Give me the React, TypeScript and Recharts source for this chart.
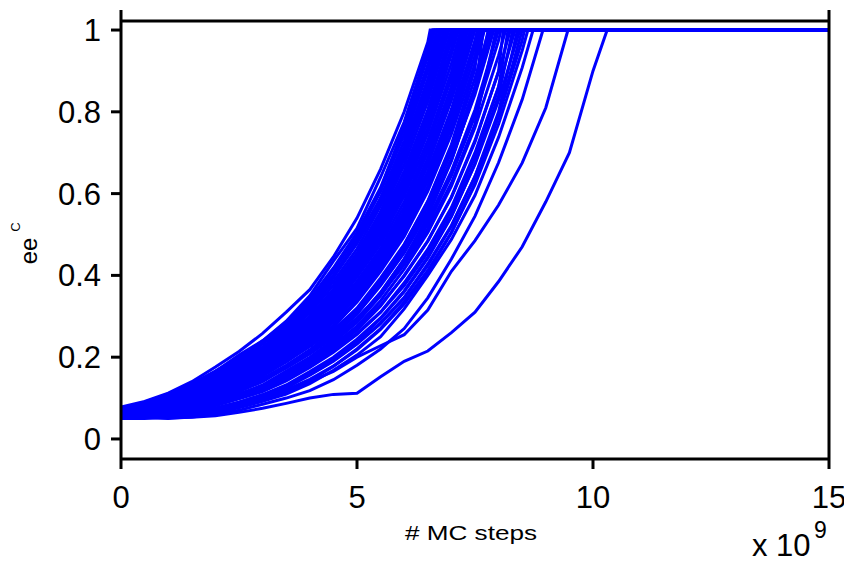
import React from 'react';
import { LineChart, Line, XAxis, YAxis, ReferenceLine } from 'recharts';

const FONT = '"Liberation Sans", Arial, sans-serif';

// MC-step grid (units of 1e9) at which each run's ee value was read
const gridSteps = [0, 0.5, 1, 1.5, 2, 2.5, 3, 3.5, 4, 4.5, 5, 5.5, 6, 6.5, 7, 7.5, 8, 8.5, 9, 9.5, 10];

const run01 = [0.078, 0.092, 0.112, 0.14, 0.176, 0.214, 0.258, 0.31, 0.365, 0.445, 0.54, 0.66, 0.8, 0.97];
const run02 = [0.072, 0.09, 0.108, 0.134, 0.165, 0.205, 0.24, 0.288, 0.35, 0.435, 0.515, 0.64, 0.775, 0.955];
const run03 = [0.07, 0.084, 0.1, 0.13, 0.158, 0.196, 0.236, 0.28, 0.342, 0.418, 0.505, 0.615, 0.76, 0.935];
const run04 = [0.075, 0.088, 0.105, 0.128, 0.16, 0.19, 0.232, 0.276, 0.338, 0.41, 0.498, 0.605, 0.745, 0.915];
const run05 = [0.066, 0.08, 0.096, 0.122, 0.152, 0.188, 0.225, 0.27, 0.33, 0.4, 0.485, 0.59, 0.73, 0.9];
const run06 = [0.07, 0.086, 0.102, 0.125, 0.15, 0.185, 0.222, 0.265, 0.322, 0.395, 0.478, 0.58, 0.715, 0.88];
const run07 = [0.063, 0.078, 0.098, 0.12, 0.146, 0.18, 0.218, 0.262, 0.315, 0.385, 0.465, 0.57, 0.7, 0.86];
const run08 = [0.072, 0.082, 0.1, 0.118, 0.145, 0.178, 0.214, 0.256, 0.308, 0.376, 0.455, 0.556, 0.688, 0.84];
const run09 = [0.065, 0.076, 0.094, 0.115, 0.14, 0.172, 0.21, 0.25, 0.3, 0.366, 0.448, 0.545, 0.67, 0.825];
const run10 = [0.068, 0.08, 0.094, 0.112, 0.138, 0.168, 0.205, 0.245, 0.296, 0.36, 0.44, 0.535, 0.655, 0.805];
const run11 = [0.061, 0.074, 0.09, 0.11, 0.132, 0.165, 0.2, 0.24, 0.29, 0.352, 0.43, 0.525, 0.642, 0.79, 0.975];
const run12 = [0.066, 0.072, 0.088, 0.108, 0.13, 0.16, 0.196, 0.236, 0.284, 0.346, 0.424, 0.514, 0.63, 0.776, 0.955];
const run13 = [0.058, 0.068, 0.084, 0.104, 0.126, 0.158, 0.192, 0.232, 0.28, 0.34, 0.416, 0.505, 0.618, 0.76, 0.94];
const run14 = [0.07, 0.076, 0.09, 0.106, 0.128, 0.156, 0.19, 0.23, 0.275, 0.336, 0.41, 0.495, 0.606, 0.748, 0.918];
const run15 = [0.062, 0.066, 0.08, 0.1, 0.122, 0.15, 0.186, 0.224, 0.27, 0.328, 0.402, 0.486, 0.594, 0.73, 0.898];
const run16 = [0.066, 0.072, 0.086, 0.102, 0.124, 0.152, 0.183, 0.22, 0.265, 0.32, 0.396, 0.476, 0.58, 0.716, 0.882];
const run17 = [0.056, 0.064, 0.078, 0.096, 0.118, 0.144, 0.178, 0.215, 0.26, 0.314, 0.386, 0.466, 0.568, 0.702, 0.862];
const run18 = [0.064, 0.07, 0.082, 0.098, 0.12, 0.146, 0.176, 0.212, 0.255, 0.308, 0.375, 0.456, 0.555, 0.686, 0.842];
const run19 = [0.06, 0.066, 0.078, 0.094, 0.114, 0.138, 0.172, 0.208, 0.25, 0.302, 0.368, 0.448, 0.546, 0.672, 0.828];
const run20 = [0.064, 0.068, 0.078, 0.092, 0.112, 0.136, 0.168, 0.204, 0.245, 0.295, 0.36, 0.44, 0.536, 0.655, 0.806];
const run21 = [0.058, 0.064, 0.075, 0.09, 0.11, 0.132, 0.164, 0.2, 0.24, 0.29, 0.352, 0.432, 0.526, 0.645, 0.79, 0.975];
const run22 = [0.062, 0.066, 0.078, 0.092, 0.11, 0.13, 0.162, 0.196, 0.236, 0.285, 0.348, 0.426, 0.516, 0.632, 0.776, 0.958];
const run23 = [0.068, 0.07, 0.076, 0.088, 0.106, 0.126, 0.156, 0.19, 0.23, 0.278, 0.34, 0.416, 0.505, 0.618, 0.762, 0.938];
const run24 = [0.055, 0.06, 0.07, 0.086, 0.104, 0.124, 0.154, 0.188, 0.228, 0.274, 0.335, 0.41, 0.495, 0.606, 0.746, 0.918];
const run25 = [0.06, 0.064, 0.072, 0.084, 0.1, 0.12, 0.148, 0.18, 0.218, 0.264, 0.32, 0.394, 0.476, 0.58, 0.716, 0.882];
const run26 = [0.066, 0.068, 0.074, 0.086, 0.1, 0.118, 0.145, 0.178, 0.214, 0.258, 0.312, 0.385, 0.466, 0.568, 0.702, 0.862];
const run27 = [0.057, 0.06, 0.068, 0.08, 0.096, 0.116, 0.14, 0.174, 0.21, 0.252, 0.305, 0.375, 0.455, 0.555, 0.686, 0.842];
const run28 = [0.062, 0.062, 0.068, 0.078, 0.092, 0.11, 0.132, 0.166, 0.2, 0.242, 0.292, 0.358, 0.44, 0.535, 0.655, 0.805];
const run29 = [0.054, 0.058, 0.064, 0.075, 0.09, 0.108, 0.128, 0.16, 0.196, 0.236, 0.285, 0.35, 0.43, 0.525, 0.644, 0.79, 0.975];
const run30 = [0.06, 0.062, 0.066, 0.074, 0.086, 0.104, 0.124, 0.154, 0.19, 0.23, 0.276, 0.338, 0.415, 0.505, 0.618, 0.762, 0.938];
const run31 = [0.052, 0.055, 0.06, 0.068, 0.082, 0.1, 0.12, 0.148, 0.182, 0.22, 0.266, 0.325, 0.4, 0.484, 0.592, 0.73, 0.898];
const run32 = [0.058, 0.058, 0.062, 0.07, 0.082, 0.098, 0.116, 0.142, 0.175, 0.212, 0.256, 0.31, 0.382, 0.464, 0.566, 0.7, 0.862];
const run33 = [0.05, 0.05, 0.054, 0.062, 0.074, 0.09, 0.108, 0.132, 0.165, 0.2, 0.244, 0.296, 0.362, 0.445, 0.545, 0.672, 0.828];
const run34 = [0.056, 0.054, 0.056, 0.062, 0.072, 0.086, 0.104, 0.125, 0.156, 0.19, 0.232, 0.282, 0.345, 0.428, 0.522, 0.642, 0.79, 0.975];
const run35 = [0.062, 0.058, 0.056, 0.06, 0.068, 0.08, 0.096, 0.115, 0.142, 0.178, 0.22, 0.27, 0.335, 0.412, 0.505, 0.622, 0.77, 0.95];
const run36 = [0.058, 0.054, 0.052, 0.056, 0.064, 0.076, 0.092, 0.11, 0.135, 0.168, 0.205, 0.25, 0.318, 0.4, 0.488, 0.596, 0.738, 0.908];
const run37 = [0.055, 0.052, 0.05, 0.054, 0.06, 0.07, 0.085, 0.1, 0.118, 0.145, 0.18, 0.22, 0.27, 0.345, 0.44, 0.545, 0.676, 0.83];
const run38 = [0.06, 0.058, 0.06, 0.064, 0.07, 0.082, 0.098, 0.115, 0.14, 0.165, 0.2, 0.228, 0.255, 0.315, 0.41, 0.485, 0.572, 0.675, 0.81];
const run39 = [0.06, 0.056, 0.052, 0.053, 0.057, 0.065, 0.075, 0.087, 0.1, 0.109, 0.112, 0.152, 0.19, 0.215, 0.26, 0.31, 0.385, 0.47, 0.58, 0.7, 0.9];
const run40 = [0.06, 0.07, 0.085, 0.105, 0.13, 0.165, 0.205, 0.255, 0.315, 0.395, 0.49, 0.61, 0.765, 0.945];
const run41 = [0.074, 0.09, 0.11, 0.135, 0.166, 0.2, 0.24, 0.285, 0.335, 0.4, 0.48, 0.58, 0.71, 0.87];
const run42 = [0.062, 0.07, 0.084, 0.104, 0.13, 0.162, 0.2, 0.245, 0.298, 0.365, 0.448, 0.552, 0.685, 0.85];
const run43 = [0.07, 0.082, 0.1, 0.122, 0.148, 0.178, 0.214, 0.252, 0.298, 0.356, 0.43, 0.52, 0.635, 0.78];
const run44 = [0.06, 0.066, 0.078, 0.095, 0.118, 0.146, 0.18, 0.22, 0.268, 0.326, 0.4, 0.49, 0.605, 0.75, 0.95];
const run45 = [0.072, 0.08, 0.094, 0.112, 0.134, 0.16, 0.19, 0.226, 0.268, 0.318, 0.38, 0.458, 0.556, 0.685, 0.86];
const run46 = [0.058, 0.062, 0.072, 0.088, 0.108, 0.134, 0.164, 0.2, 0.244, 0.296, 0.36, 0.44, 0.54, 0.67, 0.84];
const run47 = [0.066, 0.072, 0.084, 0.1, 0.12, 0.144, 0.172, 0.206, 0.246, 0.294, 0.352, 0.424, 0.515, 0.635, 0.79];
const run48 = [0.06, 0.064, 0.072, 0.084, 0.1, 0.12, 0.146, 0.178, 0.216, 0.262, 0.318, 0.388, 0.474, 0.582, 0.72, 0.905];
const run49 = [0.064, 0.07, 0.08, 0.094, 0.112, 0.134, 0.16, 0.19, 0.226, 0.268, 0.318, 0.38, 0.458, 0.556, 0.682, 0.85];
const run50 = [0.056, 0.058, 0.064, 0.074, 0.088, 0.106, 0.13, 0.16, 0.196, 0.24, 0.292, 0.358, 0.44, 0.545, 0.68, 0.85];
const run51 = [0.062, 0.066, 0.074, 0.086, 0.102, 0.122, 0.146, 0.174, 0.208, 0.248, 0.296, 0.354, 0.426, 0.514, 0.626, 0.77];
const run52 = [0.058, 0.06, 0.066, 0.076, 0.09, 0.108, 0.13, 0.156, 0.188, 0.226, 0.272, 0.328, 0.398, 0.484, 0.59, 0.726, 0.9];
const run53 = [0.064, 0.066, 0.07, 0.078, 0.09, 0.106, 0.126, 0.15, 0.18, 0.216, 0.258, 0.31, 0.375, 0.456, 0.558, 0.69, 0.86];
const run54 = [0.054, 0.056, 0.058, 0.064, 0.074, 0.088, 0.106, 0.13, 0.16, 0.196, 0.24, 0.294, 0.36, 0.442, 0.544, 0.674, 0.84];
const run55 = [0.06, 0.058, 0.06, 0.066, 0.076, 0.09, 0.108, 0.13, 0.158, 0.192, 0.234, 0.284, 0.346, 0.424, 0.52, 0.642, 0.8];
const run56 = [0.052, 0.052, 0.054, 0.06, 0.07, 0.084, 0.1, 0.12, 0.146, 0.178, 0.218, 0.268, 0.33, 0.408, 0.504, 0.626, 0.79];

const runs = [
  run01, run02, run03, run04, run05, run06, run07, run08, run09, run10,
  run11, run12, run13, run14, run15, run16, run17, run18, run19, run20,
  run21, run22, run23, run24, run25, run26, run27, run28, run29, run30,
  run31, run32, run33, run34, run35, run36, run37, run38, run39, run40,
  run41, run42, run43, run44, run45, run46, run47, run48, run49, run50,
  run51, run52, run53, run54, run55, run56,
];

// MC step (1e9) at which each run reaches ee = 1
const runEnds = [
  6.55, 6.6, 6.65, 6.7, 6.75, 6.8, 6.85, 6.9, 6.95, 7.0,
  7.05, 7.1, 7.15, 7.2, 7.25, 7.3, 7.35, 7.4, 7.45, 7.5,
  7.55, 7.6, 7.65, 7.7, 7.8, 7.85, 7.9, 8.0, 8.05, 8.15,
  8.25, 8.35, 8.45, 8.55, 8.62, 8.73, 8.94, 9.47, 10.3, 6.62,
  6.78, 6.88, 7.02, 7.12, 7.22, 7.32, 7.42, 7.58, 7.68, 7.78,
  7.95, 8.1, 8.2, 8.3, 8.4, 8.5,
];

const xTicks = [0, 5, 10, 15];
const yTicks = [0, 0.2, 0.4, 0.6, 0.8, 1];
const xMax = 15;
const eeMax = 1;

const series = runs.map((vals, i) => [
  ...vals.map((y, j) => ({ x: gridSteps[j], y })),
  { x: runEnds[i], y: eeMax },
  { x: xMax, y: eeMax },
]);

const axisStroke = { stroke: '#000', strokeWidth: 3 };
const tickStyle = { fill: '#000', fontSize: 31, fontFamily: FONT };

export default function App() {
  return (
    <div style={{ position: 'relative', width: 844, height: 558 }}>
      <LineChart width={844} height={558} margin={{ top: 2, right: 3, bottom: 47, left: 13 }}>
        <XAxis
          type="number"
          dataKey="x"
          domain={[0, 15]}
          ticks={xTicks}
          interval={0}
          height={60}
          tickSize={10}
          tickMargin={17}
          axisLine={axisStroke}
          tickLine={axisStroke}
          tick={tickStyle}
          allowDataOverflow
        />
        <YAxis
          yAxisId="l"
          type="number"
          domain={[-0.049, 1.049]}
          ticks={yTicks}
          interval={0}
          width={100}
          tickSize={10}
          tickMargin={10}
          axisLine={axisStroke}
          tickLine={axisStroke}
          tick={tickStyle}
          allowDataOverflow
        />
        <YAxis
          yAxisId="r"
          orientation="right"
          type="number"
          domain={[-0.049, 1.049]}
          ticks={yTicks}
          interval={0}
          width={20}
          tickSize={10}
          axisLine={axisStroke}
          tickLine={axisStroke}
          tick={false}
          allowDataOverflow
        />
        <ReferenceLine yAxisId="l" y={1.022} stroke="#000" strokeWidth={3} />
        {series.map((d, i) => (
          <Line
            key={i}
            yAxisId="l"
            data={d}
            dataKey="y"
            type="linear"
            stroke="#0000ff"
            strokeWidth={3}
            dot={false}
            activeDot={false}
            isAnimationActive={false}
          />
        ))}
      </LineChart>
      <svg
        width={844}
        height={558}
        style={{ position: 'absolute', left: 0, top: 0, pointerEvents: 'none' }}
        fontFamily={FONT}
      >
        <text x={397} y={532} fontSize={21} fill="#000" textLength={132} lengthAdjust="spacingAndGlyphs">
          # MC steps
        </text>
        <text x={744} y={548} fontSize={31} fill="#000">
          x 10
        </text>
        <text x={806} y={530} fontSize={23} fill="#000">
          9
        </text>
        <text transform="translate(29,243) rotate(-90)" textAnchor="middle" fontSize={24} fill="#000">
          ee
        </text>
        <text transform="translate(12,219) rotate(-90)" textAnchor="middle" fontSize={13} fill="#000">
          C
        </text>
      </svg>
    </div>
  );
}
